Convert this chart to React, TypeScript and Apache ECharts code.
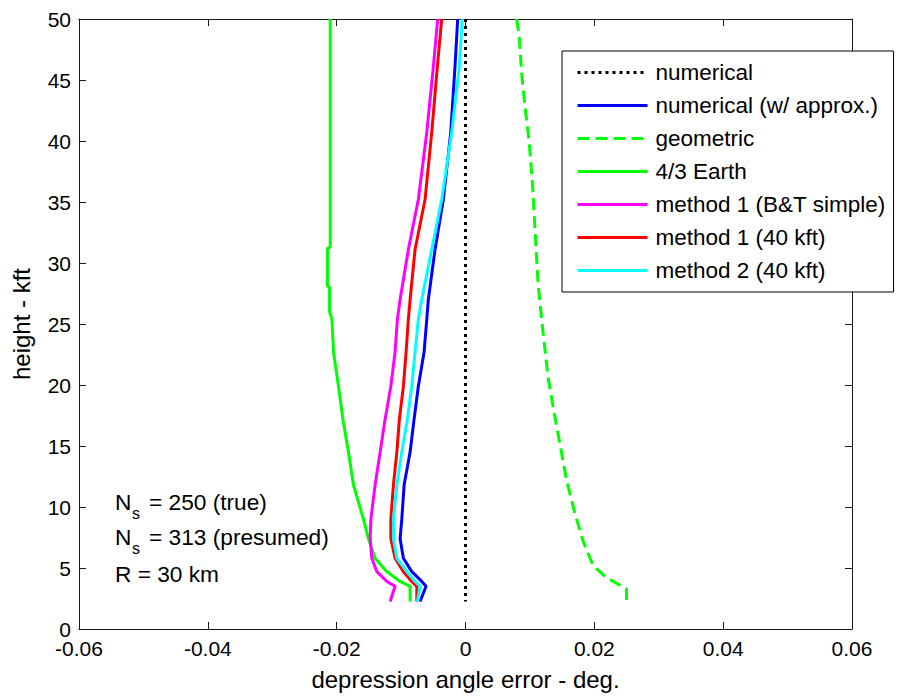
import React, { useEffect, useRef } from "react";
import * as echarts from "echarts";

// Shared heights (kft) for the central curves
const H = [50, 46.1, 40.7, 35.2, 31.1, 27.0, 25.4, 22.7, 19.9, 17.2, 14.5, 11.8, 9.0, 7.4, 5.8, 4.7, 3.9, 3.5, 2.25];

const numericalX = [0, 0];
const numericalH = [50, 2.25];

const approxX = [-0.00121, -0.00163, -0.00229, -0.00344, -0.00473, -0.00577, -0.00601, -0.00643, -0.00732, -0.00798, -0.0086, -0.00953, -0.00989, -0.01015, -0.00964, -0.00834, -0.00679, -0.00612, -0.00705];

const geoH = [50, 48.6, 45.6, 42.9, 39.9, 36.3, 32.9, 28.2, 24.2, 20.6, 18.2, 15.2, 12.2, 9.5, 7.2, 5.2, 4.2, 3.3, 2.2];
const geoX = [0.00794, 0.00834, 0.00871, 0.00922, 0.00989, 0.01042, 0.01077, 0.01128, 0.01206, 0.01283, 0.01361, 0.01465, 0.01569, 0.01697, 0.01826, 0.01981, 0.02189, 0.02499, 0.02499];

const earthH = [50, 31.3, 31.2, 28.1, 28.0, 26.0, 25.4, 22.7, 19.9, 17.2, 14.5, 11.8, 9.0, 7.4, 5.8, 4.7, 3.9, 3.5, 2.25];
const earthX = [-0.0210, -0.0210, -0.02142, -0.02142, -0.0211, -0.0211, -0.02074, -0.02049, -0.01972, -0.01903, -0.01817, -0.01739, -0.01584, -0.01507, -0.01403, -0.01221, -0.01015, -0.0086, -0.0086];

const btX = [-0.00431, -0.00499, -0.00601, -0.00732, -0.00887, -0.01015, -0.01057, -0.01093, -0.01159, -0.01248, -0.01325, -0.01403, -0.01469, -0.0148, -0.01454, -0.01376, -0.01221, -0.01093, -0.0117];
const m1X = [-0.00369, -0.00437, -0.00524, -0.00628, -0.00783, -0.0086, -0.00887, -0.00922, -0.00964, -0.01026, -0.01066, -0.01119, -0.01159, -0.01159, -0.01093, -0.00964, -0.00834, -0.00756, -0.00756];
const m2X = [-0.0005, -0.00096, -0.00214, -0.00369, -0.00524, -0.00679, -0.00732, -0.00783, -0.00834, -0.00902, -0.00989, -0.01066, -0.01119, -0.01119, -0.01066, -0.00911, -0.00783, -0.00705, -0.00747];

const names = [
  "numerical",
  "numerical (w/ approx.)",
  "geometric",
  "4/3 Earth",
  "method 1 (B&T simple)",
  "method 1 (40 kft)",
  "method 2 (40 kft)",
];

const FONT = "Liberation Sans, Arial, Helvetica, sans-serif";

function pairs(xs: number[], hs: number[]) {
  return xs.map((x, i) => [x, hs[i]]);
}

function line(name: string, data: number[][], color: string, type: any = "solid") {
  return {
    type: "line",
    name,
    data,
    xAxisIndex: 0,
    yAxisIndex: 0,
    showSymbol: false,
    symbol: "none",
    silent: true,
    lineStyle: { color, width: 3, type, cap: "butt" },
    itemStyle: { color },
  };
}

export default function App() {
  const ref = useRef<HTMLDivElement>(null);
  useEffect(() => {
    if (!ref.current) return;
    const chart = echarts.init(ref.current, undefined, { renderer: "svg" });
    const axisLine = { show: true, onZero: false, lineStyle: { color: "#1a1a1a", width: 1 } };
    const axisTick = { show: true, inside: true, length: 7, lineStyle: { color: "#1a1a1a" } };
    const label = { color: "#000", fontSize: 21, fontFamily: FONT };
    const nameStyle = { color: "#000", fontSize: 24, fontFamily: FONT };
    const annot = { fontSize: 22.7, fontFamily: FONT, fill: "#000" };
    const sub = { fontSize: 16, fontFamily: FONT, fill: "#000" };
    chart.setOption({
      animation: false,
      backgroundColor: "#fff",
      grid: { left: 79, right: 50, top: 19, bottom: 65.5, containLabel: false },
      xAxis: [
        {
          type: "value", min: -0.06, max: 0.06, interval: 0.02, position: "bottom",
          axisLine, axisTick, splitLine: { show: false },
          axisLabel: { ...label, margin: 9 },
          name: "depression angle error - deg.", nameLocation: "middle", nameGap: 38,
          nameTextStyle: nameStyle,
        },
        {
          type: "value", min: -0.06, max: 0.06, interval: 0.02, position: "top",
          axisLine, axisTick, splitLine: { show: false }, axisLabel: { show: false },
        },
      ],
      yAxis: [
        {
          type: "value", min: 0, max: 50, interval: 5, position: "left",
          axisLine, axisTick, splitLine: { show: false },
          axisLabel: { ...label, margin: 8 },
          name: "height - kft", nameLocation: "middle", nameGap: 46, nameRotate: 90,
          nameTextStyle: nameStyle,
        },
        {
          type: "value", min: 0, max: 50, interval: 5, position: "right",
          axisLine, axisTick, splitLine: { show: false }, axisLabel: { show: false },
        },
      ],
      legend: {
        data: names,
        orient: "vertical",
        left: 562,
        top: 51,
        itemWidth: 70,
        itemHeight: 14,
        itemGap: 10,
        padding: [10, 8, 10, 14],
        borderColor: "#000",
        borderWidth: 1,
        backgroundColor: "#fff",
        selectedMode: false,
        itemStyle: { opacity: 0 },
        lineStyle: { width: 3 },
        textStyle: { color: "#000", fontSize: 22.5, fontFamily: FONT, padding: [0, 0, 0, 3] },
        z: 10,
      },
      graphic: [
        { type: "text", left: 115, top: 490, style: { text: "N", ...annot } },
        { type: "text", left: 132, top: 505, style: { text: "s", ...sub } },
        { type: "text", left: 149, top: 490, style: { text: "= 250 (true)", ...annot } },
        { type: "text", left: 115, top: 525, style: { text: "N", ...annot } },
        { type: "text", left: 132, top: 540, style: { text: "s", ...sub } },
        { type: "text", left: 149, top: 525, style: { text: "= 313 (presumed)", ...annot } },
        { type: "text", left: 115, top: 562, style: { text: "R = 30 km", ...annot } },
      ],
      series: [
        line(names[0], pairs(numericalX, numericalH), "#000000", [3, 4]),
        line(names[1], pairs(approxX, H), "#0000ff"),
        line(names[2], pairs(geoX, geoH), "#00ff00", [12, 6]),
        line(names[3], pairs(earthX, earthH), "#00ff00"),
        line(names[4], pairs(btX, H), "#ff00ff"),
        line(names[5], pairs(m1X, H), "#ff0000"),
        line(names[6], pairs(m2X, H), "#00ffff"),
      ],
    });
    return () => chart.dispose();
  }, []);
  return (
    <div
      ref={ref}
      style={{ position: "fixed", left: 0, top: 0, width: 902, height: 696, background: "#fff" }}
    />
  );
}
